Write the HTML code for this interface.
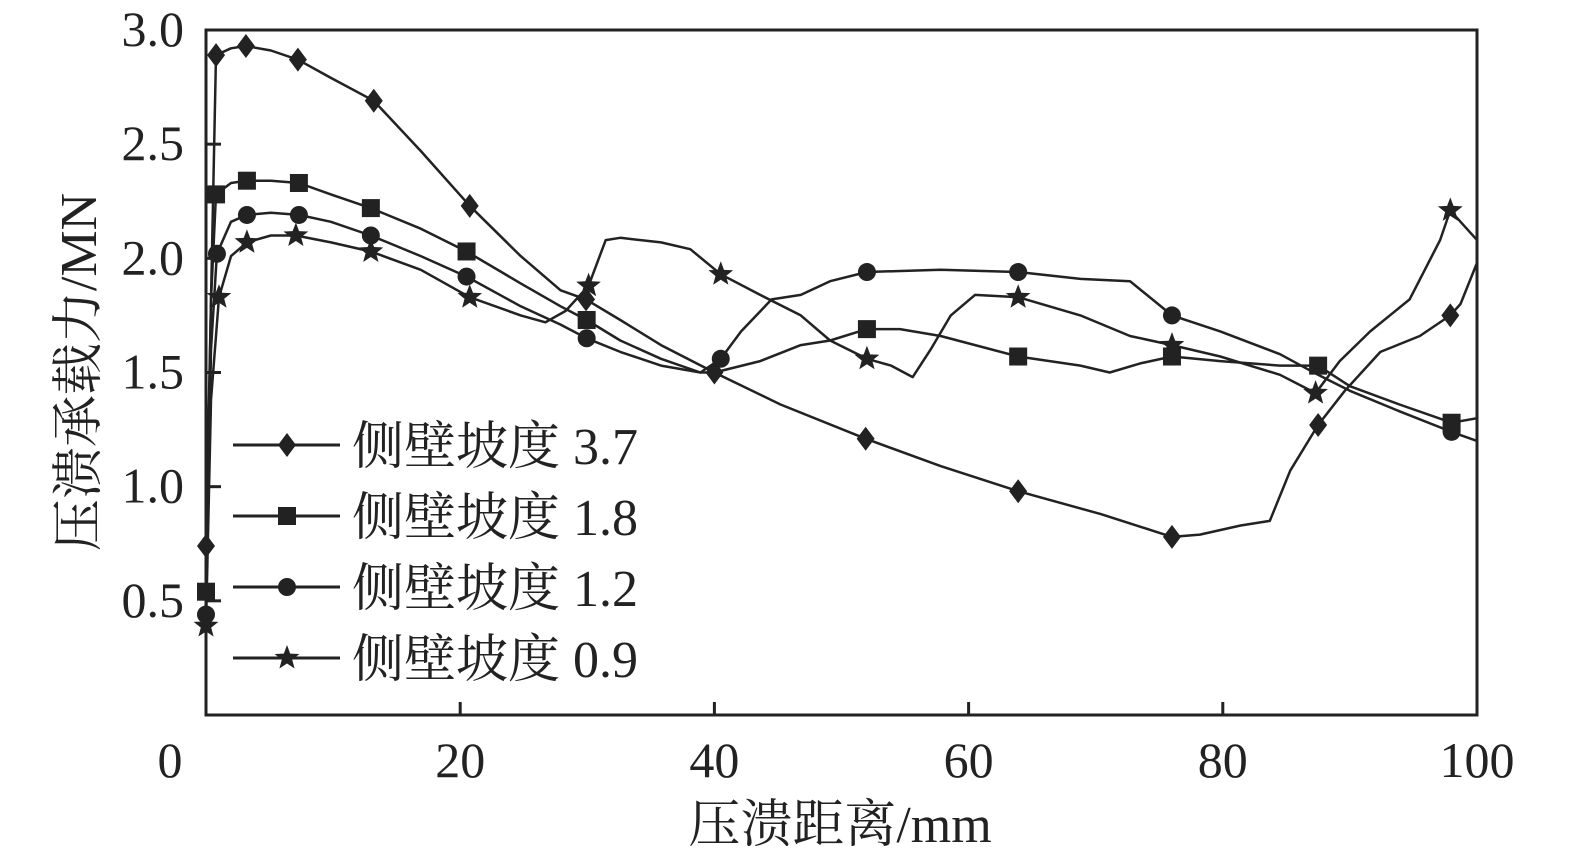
<!DOCTYPE html>
<html><head><meta charset="utf-8"><style>
body{margin:0;background:#fff}
svg{display:block}
text{font-family:"Liberation Serif","Noto Serif CJK SC",serif;fill:#222}
</style></head><body>
<svg id="chart" width="1575" height="863" viewBox="0 0 1575 863"></svg>
<script>
const xTicks=[0,20,40,60,80,100];
const yTicks=[0.5,1.0,1.5,2.0,2.5,3.0];
const seriesNames=["侧壁坡度 3.7","侧壁坡度 1.8","侧壁坡度 1.2","侧壁坡度 0.9"];
const xs37=[0,0.79,1.97,3.14,5.11,7.23,9.83,13.2,16.9,20.75,24.76,27.9,29.9,32.6,35.8,40.0,45.2,51.9,57.8,63.9,70.4,76.0,78.2,81.4,83.7,85.3,87.5,89.6,92.4,95.5,97.9,98.7,100];
const ys37=[0.74,2.89,2.92,2.93,2.91,2.87,2.79,2.69,2.47,2.23,2.01,1.86,1.82,1.73,1.62,1.50,1.36,1.21,1.09,0.98,0.88,0.78,0.79,0.83,0.85,1.07,1.27,1.42,1.59,1.66,1.75,1.80,1.98];
const mk37=[0,1,3,5,7,9,12,15,17,19,21,26,30];
const xs18=[0,0.39,0.79,1.97,3.22,5.11,7.31,9.83,12.97,16.9,20.5,24.76,27.9,29.95,32.6,35.8,38.9,40.0,43.6,46.8,49.1,52.0,54.6,57.8,63.9,68.8,71.1,73.5,76.0,79.8,84.5,87.5,90.0,93.9,98.0,100];
const ys18=[0.54,1.82,2.28,2.33,2.34,2.34,2.33,2.28,2.22,2.13,2.03,1.89,1.79,1.73,1.64,1.56,1.50,1.50,1.55,1.62,1.64,1.69,1.69,1.66,1.57,1.53,1.50,1.54,1.57,1.55,1.53,1.53,1.44,1.36,1.28,1.30];
const mk18=[0,2,4,6,8,10,13,21,24,28,31,34];
const xs12=[0,0.39,0.86,1.97,3.22,5.11,7.31,9.83,12.97,16.9,20.5,24.76,27.9,29.95,32.6,35.8,38.9,40.5,42.1,44.5,46.8,49.1,52.0,57.8,63.9,68.8,72.7,76.0,79.8,84.5,87.5,90.0,93.9,98.0,100];
const ys12=[0.44,1.60,2.02,2.16,2.19,2.20,2.19,2.16,2.10,2.01,1.92,1.79,1.71,1.65,1.59,1.53,1.50,1.56,1.68,1.82,1.84,1.90,1.94,1.95,1.94,1.91,1.90,1.75,1.68,1.58,1.49,1.42,1.33,1.24,1.20];
const mk12=[0,2,4,6,8,10,13,17,22,24,27,33];
const xs09=[0,0.39,1.02,1.97,3.22,5.11,7.07,9.83,12.97,16.9,20.75,24.76,26.7,28.3,30.1,31.45,32.6,35.8,38.1,40.5,43.6,46.8,49.1,52.0,53.9,55.6,57.0,58.6,60.5,63.9,68.8,72.7,76.0,79.8,84.5,87.3,89.2,91.6,94.7,97.1,97.9,100];
const ys09=[0.39,1.38,1.83,2.01,2.07,2.10,2.10,2.07,2.03,1.95,1.83,1.75,1.72,1.77,1.88,2.08,2.09,2.07,2.04,1.93,1.84,1.75,1.64,1.56,1.53,1.48,1.60,1.75,1.84,1.83,1.75,1.66,1.62,1.57,1.49,1.41,1.55,1.68,1.82,2.08,2.21,2.08];
const mk09=[0,2,4,6,8,10,14,19,23,29,32,35,40];

const L=206,R=1477,T=30,B=715;
const sx=v=>L+(v-0)/(100-0)*(R-L);
const sy=v=>B-(v-0)/(3-0)*(B-T);
const svg=document.getElementById('chart');
const NS='http://www.w3.org/2000/svg';
function mk(tag,at,parent){const e=document.createElementNS(NS,tag);for(const k in at)e.setAttribute(k,at[k]);(parent||svg).appendChild(e);return e;}

const defs=mk('defs',{});
const cp=mk('clipPath',{id:'plotclip'},defs);
mk('rect',{x:L-20,y:T,width:R-L+20,height:B-T},cp);

function marker(type,cx,cy,g){
  let e;
  if(type==='diamond')e=mk('polygon',{points:`${cx},${cy-12} ${cx+9},${cy} ${cx},${cy+12} ${cx-9},${cy}`,fill:'#222'},g);
  else if(type==='square')e=mk('rect',{x:cx-9,y:cy-9,width:18,height:18,fill:'#222'},g);
  else if(type==='circle')e=mk('circle',{cx:cx,cy:cy,r:9,fill:'#222'},g);
  else{let p=[];for(let i=0;i<10;i++){const r=i%2?5.5:13,a=-Math.PI/2+i*Math.PI/5;p.push((cx+r*Math.cos(a)).toFixed(1)+','+(cy+r*Math.sin(a)).toFixed(1));}
    e=mk('polygon',{points:p.join(' '),fill:'#222'},g);}
  return e;
}

const all=[[xs37,ys37,mk37,'diamond','series-3-7'],[xs18,ys18,mk18,'square','series-1-8'],[xs12,ys12,mk12,'circle','series-1-2'],[xs09,ys09,mk09,'star','series-0-9']];
all.forEach(([xs,ys,mi,type,name])=>{
  const g=mk('g',{'clip-path':'url(#plotclip)'});
  
  
  const pl=mk('polyline',{points:xs.map((x,i)=>sx(x).toFixed(1)+','+sy(ys[i]).toFixed(1)).join(' '),fill:'none',stroke:'#222','stroke-width':2.5,'stroke-linejoin':'round'},g);
  
  
  mi.forEach(i=>{const m=marker(type,sx(xs[i]),sy(ys[i]),svg);
    
    });
});

const box=mk('rect',{x:L,y:T,width:R-L,height:B-T,fill:'none',stroke:'#222','stroke-width':3});



xTicks.forEach(v=>{
  if(v>0&&v<100){const t=mk('line',{x1:sx(v),x2:sx(v),y1:B,y2:B-13,stroke:'#222','stroke-width':3});
    
    }
  const tx=mk('text',{x:v===0?170:sx(v),y:777,'text-anchor':'middle','font-size':50});
  tx.textContent=v;
  
  
});
yTicks.forEach(v=>{
  if(v<3){const t=mk('line',{x1:L,x2:L+15,y1:sy(v),y2:sy(v),stroke:'#222','stroke-width':3});
    
    }
  const tx=mk('text',{x:184,y:sy(v)+16,'text-anchor':'end','font-size':50});
  tx.textContent=v.toFixed(1);
  
  
});
const xt=mk('text',{x:840,y:842,'text-anchor':'middle','font-size':52});
xt.textContent='压溃距离/mm';


const yt=mk('text',{x:0,y:0,'text-anchor':'middle','font-size':52,transform:'translate(96,372) rotate(-90)'});
yt.textContent='压溃承载力/MN';



const types=['diamond','square','circle','star'];
const legY=[445,516,587,658];
seriesNames.forEach((n,i)=>{
  const g=mk('g',{});
  
  
  mk('line',{x1:233,x2:340,y1:legY[i],y2:legY[i],stroke:'#222','stroke-width':3},g);
  marker(types[i],287,legY[i],g);
  const t=mk('text',{x:352,y:legY[i]+19,'font-size':52},g);
  t.textContent=n;
});
</script>
</body></html>
